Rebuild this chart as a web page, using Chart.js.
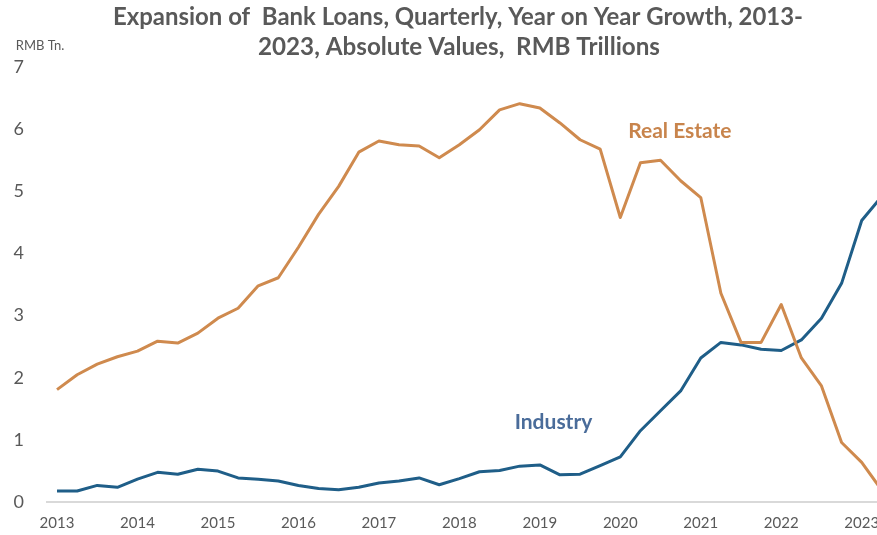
<!DOCTYPE html>
<html>
<head>
<meta charset="utf-8">
<title>Bank Loans by Sector</title>
<script src="https://cdn.jsdelivr.net/npm/chart.js@4/dist/chart.umd.min.js"></script>
<style>
  html, body { margin: 0; padding: 0; background: #fff; }
  #wrap { width: 877px; height: 535px; }
</style>
</head>
<body>
<div id="wrap"><canvas id="myChart"></canvas></div>
<script>
// quarterly observations, 2013Q1 .. 2023Q2
const quarterLabels = [
  '2013Q1','2013Q2','2013Q3','2013Q4','2014Q1','2014Q2','2014Q3','2014Q4',
  '2015Q1','2015Q2','2015Q3','2015Q4','2016Q1','2016Q2','2016Q3','2016Q4',
  '2017Q1','2017Q2','2017Q3','2017Q4','2018Q1','2018Q2','2018Q3','2018Q4',
  '2019Q1','2019Q2','2019Q3','2019Q4','2020Q1','2020Q2','2020Q3','2020Q4',
  '2021Q1','2021Q2','2021Q3','2021Q4','2022Q1','2022Q2','2022Q3','2022Q4',
  '2023Q1','2023Q2'
];

// RMB trillions
const realEstate = [
  1.81, 2.05, 2.22, 2.34, 2.43, 2.59, 2.56, 2.72,
  2.96, 3.12, 3.48, 3.61, 4.10, 4.63, 5.08, 5.63,
  5.81, 5.75, 5.73, 5.54, 5.75, 5.99, 6.31, 6.41,
  6.34, 6.10, 5.83, 5.68, 4.58, 5.46, 5.50, 5.17,
  4.90, 3.36, 2.57, 2.57, 3.18, 2.32, 1.87, 0.96,
  0.64, 0.19
];
const industry = [
  0.18, 0.18, 0.27, 0.24, 0.37, 0.48, 0.45, 0.53,
  0.50, 0.39, 0.37, 0.34, 0.27, 0.22, 0.20, 0.24,
  0.31, 0.34, 0.39, 0.28, 0.38, 0.49, 0.51, 0.58,
  0.60, 0.44, 0.45, 0.59, 0.73, 1.15, 1.47, 1.79,
  2.32, 2.57, 2.53, 2.46, 2.44, 2.61, 2.96, 3.52,
  4.53, 4.92
];

const yearTicks = [2013, 2014, 2015, 2016, 2017, 2018, 2019, 2020, 2021, 2022, 2023];

const titleLines = [
  'Expansion of  Bank Loans, Quarterly, Year on Year Growth, 2013-',
  '2023, Absolute Values,  RMB Trillions'
];

const FONT = 'Lato, "Open Sans", sans-serif';
const GREY = '#595959';
const ORANGE = '#CF8A4E';
const BLUE = '#1F5E88';

// quarter label -> fractional year on the x scale
const toX = q => Number(q.slice(0, 4)) + (Number(q.slice(5)) - 1) / 4;
const points = arr => arr.map((v, i) => ({ x: toX(quarterLabels[i]), y: v }));

// draw text centred at (cx, cy), squeezed sideways to a given width
function fitText(ctx, text, cx, cy, width) {
  const w = ctx.measureText(text).width;
  const k = Math.min(1, width / w);
  ctx.save();
  ctx.translate(cx, cy);
  ctx.scale(k, 1);
  ctx.fillText(text, 0, 0);
  ctx.restore();
}

// title, unit note and the two series names
const textPlugin = {
  id: 'chartText',
  afterDraw(chart) {
    const ctx = chart.ctx;
    const xs = chart.scales.x, ys = chart.scales.y;
    ctx.save();
    ctx.textBaseline = 'middle';
    ctx.textAlign = 'center';

    ctx.fillStyle = GREY;
    ctx.font = 'bold 25px ' + FONT;
    fitText(ctx, titleLines[0], 458, 17, 690);
    fitText(ctx, titleLines[1], 459, 47, 402);

    ctx.font = '13px ' + FONT;
    fitText(ctx, 'RMB Tn.', 40, 46, 56);

    ctx.font = 'bold 21px ' + FONT;
    ctx.fillStyle = '#C8844C';
    fitText(ctx, 'Real Estate', xs.getPixelForValue(2020.74), ys.getPixelForValue(5.96), 108);
    ctx.fillStyle = '#4A6C9A';
    fitText(ctx, 'Industry', xs.getPixelForValue(2019.17), ys.getPixelForValue(1.28), 80);
    ctx.restore();
  }
};

new Chart(document.getElementById('myChart'), {
  type: 'line',
  data: {
    datasets: [
      {
        label: 'Real Estate',
        data: points(realEstate),
        borderColor: ORANGE,
        borderWidth: 3,
        pointRadius: 0,
        tension: 0,
        borderJoinStyle: 'round'
      },
      {
        label: 'Industry',
        data: points(industry),
        borderColor: BLUE,
        borderWidth: 3,
        pointRadius: 0,
        tension: 0,
        borderJoinStyle: 'round'
      }
    ]
  },
  options: {
    responsive: true,
    maintainAspectRatio: false,
    animation: false,
    layout: { padding: { top: 67, right: 0, left: 0, bottom: 0 } },
    plugins: {
      legend: { display: false },
      tooltip: { enabled: false },
      title: { display: false }
    },
    scales: {
      x: {
        type: 'linear',
        min: 2012.863,
        max: 2023.19,
        afterBuildTicks: s => { s.ticks = yearTicks.map(v => ({ value: v })); },
        afterFit: s => { s.height = 30; s.paddingLeft = 0; s.paddingRight = 0; },
        grid: { display: false, drawTicks: false },
        border: { display: false },
        ticks: {
          color: GREY,
          font: { family: FONT, size: 15, lineHeight: 1.5 },
          padding: 10,
          maxRotation: 0,
          callback: v => String(v)
        }
      },
      y: {
        min: 0,
        max: 7,
        afterFit: s => { s.width = 46; },
        grid: {
          drawTicks: false,
          lineWidth: 2,
          color: c => (c.tick && c.tick.value === 0 ? '#D9D9D9' : 'rgba(0,0,0,0)')
        },
        border: { display: false },
        ticks: {
          stepSize: 1,
          color: GREY,
          font: { family: FONT, size: 18 },
          padding: 22
        }
      }
    }
  },
  plugins: [textPlugin]
});
</script>
</body>
</html>
